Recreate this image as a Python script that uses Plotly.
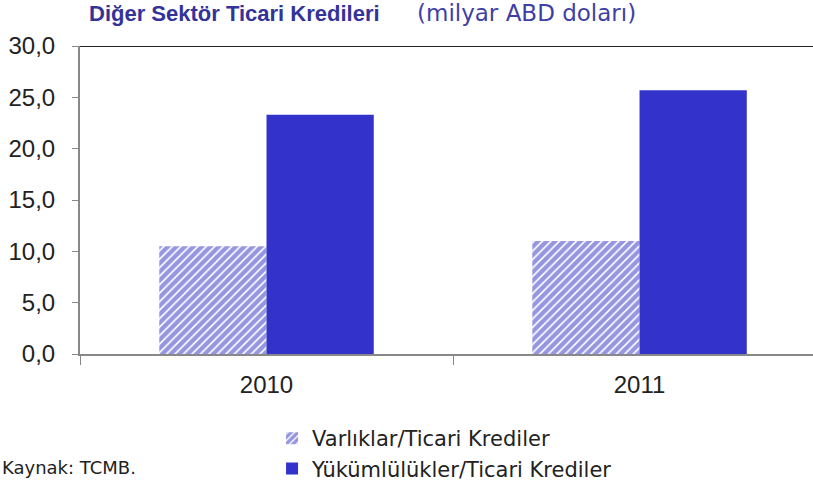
import plotly.graph_objects as go

years = ["2010", "2011"]
varliklar = [10.5, 11.0]
yukumlulukler = [23.3, 25.7]
yticks = [0, 5, 10, 15, 20, 25, 30]
ytick_labels = ["0,0", "5,0", "10,0", "15,0", "20,0", "25,0", "30,0"]

BLUE = "#3333CC"
FONT = "Liberation Sans"
WIDE = "DejaVu Sans"

fig = go.Figure()
fig.add_trace(go.Bar(
    x=years, y=varliklar, name="Varlıklar/Ticari Krediler", legendgroup="a",
    marker=dict(color="white", line=dict(width=0),
                pattern=dict(shape="/", fgcolor="#2C2CC4", bgcolor="white", size=6, solidity=0.72)),
))
fig.add_trace(go.Bar(
    x=years, y=yukumlulukler, name="Yükümlülükler/Ticari Krediler", legendgroup="b",
    marker=dict(color=BLUE, line=dict(width=0)),
))

fig.update_layout(
    width=813, height=485,
    margin=dict(l=80, r=0, t=46, b=131, autoexpand=False),
    plot_bgcolor="white", paper_bgcolor="white",
    barmode="group", bargap=0.425, bargroupgap=0,
    font=dict(family=FONT, size=18, color="#222"),
    showlegend=True,
    legend=dict(x=0.262, y=-0.208, xanchor="left", yanchor="top", orientation="v",
                font=dict(family=WIDE, size=21, color="#222"), traceorder="grouped",
                tracegroupgap=0, bgcolor="rgba(0,0,0,0)"),
)
fig.update_xaxes(
    type="category", range=[-0.5, 1.465], showline=True, linecolor="#888", linewidth=2,
    ticks="outside", tickson="boundaries", ticklen=9, tickcolor="#888", tickwidth=1,
    ticklabelstandoff=8,
    tickfont=dict(family=FONT, size=24, color="#222"), showgrid=False,
)
fig.update_yaxes(
    range=[0, 30], tickvals=yticks, ticktext=ytick_labels, showline=True,
    linecolor="#888", linewidth=2, ticks="outside", ticklen=6, tickcolor="#888",
    ticklabelstandoff=12,
    showgrid=False, zeroline=False, tickfont=dict(family=FONT, size=24, color="#222"),
)
fig.add_shape(type="line", xref="paper", yref="y", x0=0, x1=1, y0=30, y1=30,
              line=dict(color="#222", width=2))
# Title in two parts
fig.add_annotation(text="<b>Diğer Sektör Ticari Kredileri</b>", xref="paper", yref="paper",
                   x=(88 - 80) / 733, xanchor="left", y=(354 - 13.5) / 308, yanchor="middle",
                   showarrow=False, borderpad=0,
                   font=dict(family=FONT, size=22, color="#333399"))
fig.add_annotation(text="(milyar ABD doları)", xref="paper", yref="paper",
                   x=(416 - 80) / 733, xanchor="left", y=(354 - 13.5) / 308, yanchor="middle",
                   showarrow=False, borderpad=0,
                   font=dict(family=WIDE, size=23, color="#3F3FA6"))
fig.add_annotation(text="Kaynak: TCMB.", xref="paper", yref="paper",
                   x=-80 / 733, xanchor="left", y=-(467 - 354) / 308, yanchor="middle",
                   showarrow=False, font=dict(family=WIDE, size=18, color="#222"))
fig.write_html("out.html", config={"displayModeBar": False},
               post_script="document.body.style.margin='0';")
